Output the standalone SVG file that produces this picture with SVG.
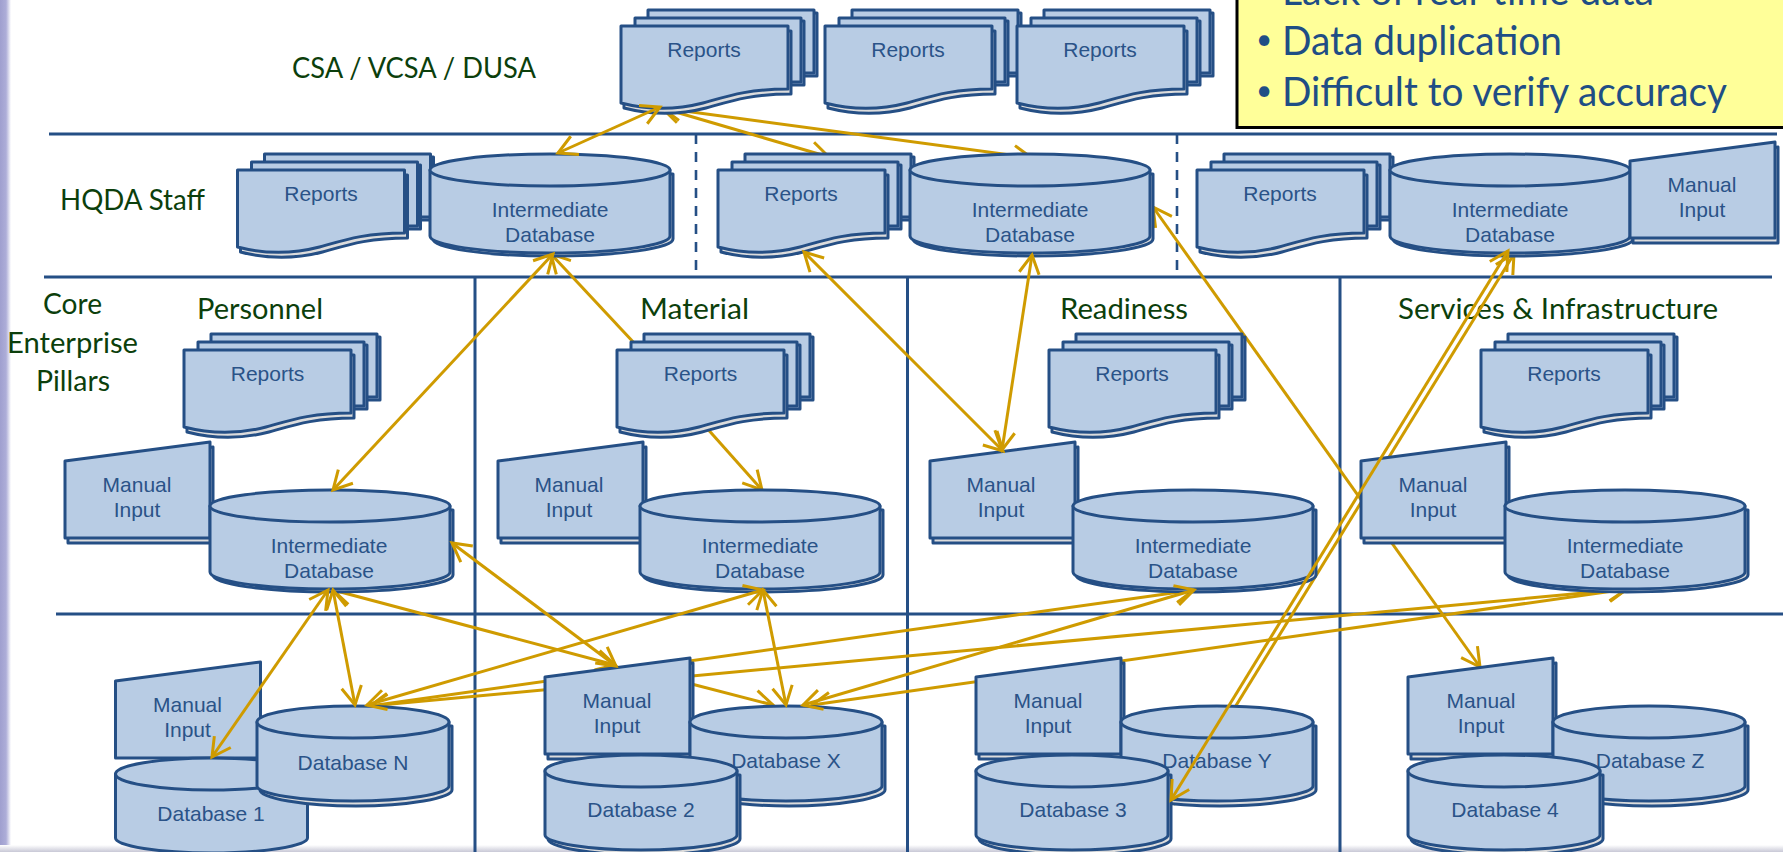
<svg xmlns="http://www.w3.org/2000/svg" width="1783" height="852" viewBox="0 0 1783 852">
<style>
.s{fill:#b8cce4;stroke:#254f85;stroke-width:3;stroke-linejoin:round}
.g{fill:#dcdcdc;stroke:#254f85;stroke-width:3;stroke-linejoin:round}
.t{font-family:"Liberation Sans",Arial,sans-serif;font-size:21px;fill:#2a5388;text-anchor:middle}
.l{font-family:"Lato","Carlito",sans-serif;font-size:29px;fill:#0c3f0c}
.y{font-family:"Lato","Carlito",sans-serif;font-size:41px;fill:#1f4e85}
.u{font-family:"Lato","Carlito",sans-serif;font-size:28px;fill:#1f4e85;text-anchor:middle}
.h{stroke:#254f85;stroke-width:3;fill:none}
.d{stroke:#254f85;stroke-width:2.6;fill:none;stroke-dasharray:10 8}
.c{stroke:#cf9b00;stroke-width:3;fill:none}
.b{marker-start:url(#a);marker-end:url(#a)}
.e{marker-end:url(#a)}
.f{marker-start:url(#a)}
</style>
<defs>
<linearGradient id="side" x1="0" x2="1" y1="0" y2="0"><stop offset="0" stop-color="#9f9fcf"/><stop offset="0.55" stop-color="#adadd8"/><stop offset="1" stop-color="#ffffff"/></linearGradient>
<linearGradient id="foot" x1="0" x2="0" y1="0" y2="1"><stop offset="0" stop-color="#ffffff"/><stop offset="1" stop-color="#c8c8d6"/></linearGradient>
<marker id="a" viewBox="-22 -12 25 24" refX="0" refY="0" markerWidth="25" markerHeight="24" markerUnits="userSpaceOnUse" orient="auto-start-reverse"><path d="M-18.500,-10 L0,0 L-18.500,10" fill="none" stroke="#cf9b00" stroke-width="3"/></marker>
<g id="stack">
<path class="s" d="M30,-13 H196 V50 H30 Z"/>
<path class="s" d="M27,-16 H193 V47 H27 Z"/>
<path class="s" d="M17,-5 H183 V59 H17 Z"/>
<path class="s" d="M14,-8 H180 V56 H14 Z"/>
<path class="g" d="M3,5 H170 V68 C130,68 110,75 85,82 C58,89 30,89 3,82 Z"/>
<path class="s" d="M0,0 H167 V63 C127,63 107,70 82,77 C55,84 27,84 0,77 Z"/>
</g>
<g id="cyl">
<path class="g" d="M3,20 V85 C3,94 55,102 122,102 C190,102 243,94 243,85 V20 Z"/>
<path class="s" d="M0,16 V82 C0,91 52,99 120,99 C188,99 240,91 240,82 V16 Z"/>
<ellipse class="s" cx="120" cy="16" rx="120" ry="16"/>
</g>
<g id="db0">
<path class="s" d="M0,16 V80 C0,88 44,95 96,95 C148,95 192,88 192,80 V16 Z"/>
<ellipse class="s" cx="96" cy="16" rx="96" ry="16"/>
</g>
<g id="db">
<path class="g" d="M3,20 V84 C3,92 46,100 99,100 C151,100 195,92 195,84 V20 Z"/>
<use href="#db0"/>
</g>
<path id="man0" class="s" d="M0,19 L145,0 V96 H0 Z"/>
<g id="man">
<path class="g" d="M3,24 L148,5 V101 H3 Z"/>
<use href="#man0"/>
</g>
</defs>

<rect id="bg" width="1783" height="852" fill="#ffffff"/>
<rect x="0" y="0" width="11" height="852" fill="url(#side)"/>
<rect x="0" y="845" width="1783" height="7" fill="url(#foot)"/>

<g id="grid">
<path class="h" d="M49,134 H1777 M44,277 H1772 M56,614 H1783 M475,277 V852 M907.500,277 V852 M1340,277 V852"/>
<path class="d" d="M696,134 V277 M1177,134 V277"/>
</g>

<g id="labels">
<text class="l" x="292" y="78" textLength="244" lengthAdjust="spacingAndGlyphs">CSA / VCSA / DUSA</text>
<text class="l" x="60" y="210" textLength="145" lengthAdjust="spacingAndGlyphs">HQDA Staff</text>
<text class="l" x="43" y="314" textLength="59" lengthAdjust="spacingAndGlyphs">Core</text>
<text class="l" x="7" y="353" textLength="131" lengthAdjust="spacingAndGlyphs">Enterprise</text>
<text class="l" x="36" y="391" textLength="74" lengthAdjust="spacingAndGlyphs">Pillars</text>
<text class="l" x="197" y="319" textLength="126" lengthAdjust="spacingAndGlyphs">Personnel</text>
<text class="l" x="640" y="319" textLength="109" lengthAdjust="spacingAndGlyphs">Material</text>
<text class="l" x="1060" y="319" textLength="128" lengthAdjust="spacingAndGlyphs">Readiness</text>
<text class="l" x="1398" y="319" textLength="320" lengthAdjust="spacingAndGlyphs">Services &amp; Infrastructure</text>
</g>

<g id="connectors-behind">
<path class="c b" d="M662,108 L829,157"/>
<path class="c b" d="M662,108 L1032,158"/>
<path class="c f" d="M551,254 L650,360"/>
<path class="c e" d="M705,426 L762,490"/>
<path class="c b" d="M1153,207 L1480,667"/>
<path class="c b" d="M1514,254 L1176,803"/>
<path class="c b" d="M333,590 L615,665"/>
<path class="c b" d="M370,706 L1194,590"/>
<path class="c b" d="M370,706 L1627,589"/>
<path class="c e" d="M680,681 L773,705"/>
<path class="c b" d="M812,705 L1627,589"/>
</g>

<g id="node-top-1"><use href="#stack" x="621" y="26"/><text class="t" x="704" y="57">Reports</text></g>
<g id="node-top-2"><use href="#stack" x="825" y="26"/><text class="t" x="908" y="57">Reports</text></g>
<g id="node-top-3"><use href="#stack" x="1017" y="26"/><text class="t" x="1100" y="57">Reports</text></g>

<g id="node-hq-1"><use href="#stack" x="237.500" y="170"/><text class="t" x="321" y="201">Reports</text>
<use href="#cyl" x="430" y="154"/><text class="t" x="550" y="217">Intermediate</text><text class="t" x="550" y="242">Database</text></g>
<g id="node-hq-2"><use href="#stack" x="718" y="170"/><text class="t" x="801" y="201">Reports</text>
<use href="#cyl" x="910" y="154"/><text class="t" x="1030" y="217">Intermediate</text><text class="t" x="1030" y="242">Database</text></g>
<g id="node-hq-3"><use href="#stack" x="1197" y="170"/><text class="t" x="1280" y="201">Reports</text>
<use href="#cyl" x="1390" y="154"/><text class="t" x="1510" y="217">Intermediate</text><text class="t" x="1510" y="242">Database</text>
<use href="#man" x="1630" y="142"/><text class="t" x="1702" y="192">Manual</text><text class="t" x="1702" y="217">Input</text></g>

<g id="node-personnel"><use href="#stack" x="184" y="350"/><text class="t" x="267.500" y="381">Reports</text>
<use href="#man" x="65" y="442"/><text class="t" x="137" y="492">Manual</text><text class="t" x="137" y="517">Input</text>
<use href="#cyl" x="210" y="490"/><text class="t" x="329" y="553">Intermediate</text><text class="t" x="329" y="578">Database</text></g>
<g id="node-material"><use href="#stack" x="617" y="350"/><text class="t" x="700.500" y="381">Reports</text>
<use href="#man" x="498" y="442"/><text class="t" x="569" y="492">Manual</text><text class="t" x="569" y="517">Input</text>
<use href="#cyl" x="640" y="490"/><text class="t" x="760" y="553">Intermediate</text><text class="t" x="760" y="578">Database</text></g>
<g id="node-readiness"><use href="#stack" x="1049" y="350"/><text class="t" x="1132" y="381">Reports</text>
<use href="#man" x="930" y="442"/><text class="t" x="1001" y="492">Manual</text><text class="t" x="1001" y="517">Input</text>
<use href="#cyl" x="1073" y="490"/><text class="t" x="1193" y="553">Intermediate</text><text class="t" x="1193" y="578">Database</text></g>
<g id="node-services"><use href="#stack" x="1481" y="350"/><text class="t" x="1564" y="381">Reports</text>
<use href="#man" x="1361" y="442"/><text class="t" x="1433" y="492">Manual</text><text class="t" x="1433" y="517">Input</text>
<use href="#cyl" x="1505" y="490"/><text class="t" x="1625" y="553">Intermediate</text><text class="t" x="1625" y="578">Database</text></g>

<g id="node-source-1"><use href="#man0" x="115.500" y="662"/><text class="t" x="187.500" y="712">Manual</text><text class="t" x="187.500" y="737">Input</text>
<use href="#db0" x="115.500" y="758"/><text class="t" x="211" y="821">Database 1</text>
<use href="#db" x="257" y="706"/><text class="t" x="353" y="770">Database N</text></g>
<g id="node-source-2"><use href="#man" x="545" y="658"/><text class="t" x="617" y="708">Manual</text><text class="t" x="617" y="733">Input</text>
<use href="#db" x="690" y="706"/><text class="t" x="786" y="768">Database X</text>
<use href="#db" x="545" y="755"/><text class="t" x="641" y="817">Database 2</text></g>
<g id="node-source-3"><use href="#man" x="976" y="658"/><text class="t" x="1048" y="708">Manual</text><text class="t" x="1048" y="733">Input</text>
<use href="#db" x="1121" y="706"/><text class="t" x="1217" y="768">Database Y</text>
<use href="#db" x="976" y="755"/><text class="t" x="1073" y="817">Database 3</text></g>
<g id="node-source-4"><use href="#man" x="1408" y="658"/><text class="t" x="1481" y="708">Manual</text><text class="t" x="1481" y="733">Input</text>
<use href="#db" x="1553" y="706"/><text class="t" x="1650" y="768">Database Z</text>
<use href="#db" x="1408" y="755"/><text class="t" x="1505" y="817">Database 4</text></g>

<g id="connectors">
<path class="c b" d="M660,107 L558,153"/>
<path class="c b" d="M553,254 L333,490"/>
<path class="c b" d="M804,252 L1003,451"/>
<path class="c b" d="M1032,255 L1002,450"/>
<path class="c b" d="M1508,251 L1171,800"/>
<path class="c b" d="M333,590 L355,705"/>
<path class="c b" d="M328,590 L212,757"/>
<path class="c b" d="M452,543 L616,666"/>
<path class="c b" d="M367,705 L763,590"/>
<path class="c b" d="M763,590 L786,705"/>
<path class="c b" d="M803,705 L1194,590"/>
</g>

<g id="callout">
<rect x="1237" y="-10" width="600" height="137.500" fill="#ffff99" stroke="#000000" stroke-width="3"/>
<text class="y" x="1282" y="5" textLength="372" lengthAdjust="spacingAndGlyphs">Lack of real-time data</text>
<text class="u" x="1264" y="49">•</text><text class="y" x="1282" y="55" textLength="280" lengthAdjust="spacingAndGlyphs">Data duplication</text>
<text class="u" x="1264" y="100">•</text><text class="y" x="1282" y="106" textLength="445" lengthAdjust="spacingAndGlyphs">Difficult to verify accuracy</text>
</g>
</svg>
